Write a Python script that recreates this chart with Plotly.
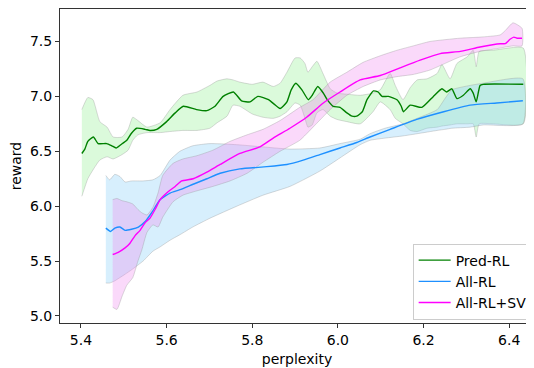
import plotly.graph_objects as go

# ---------------- data ----------------
# Pred-RL
pred_x = [5.402, 5.409, 5.416, 5.429, 5.440, 5.460, 5.472, 5.482, 5.493, 5.507,
          5.517, 5.530, 5.550, 5.561, 5.577, 5.600, 5.620, 5.639, 5.670, 5.694,
          5.713, 5.732, 5.756, 5.775, 5.795, 5.813, 5.838, 5.851, 5.865, 5.881,
          5.891, 5.902, 5.916, 5.931, 5.940, 5.953, 5.966, 5.975, 5.989, 6.005,
          6.021, 6.033, 6.044, 6.057, 6.068, 6.083, 6.094, 6.103, 6.118, 6.138,
          6.148, 6.153, 6.169, 6.196, 6.223, 6.243, 6.254, 6.266, 6.278, 6.293,
          6.309, 6.316, 6.323, 6.332, 6.339, 6.433]
pred_y = [6.48, 6.52, 6.59, 6.63, 6.57, 6.57, 6.55, 6.53, 6.56, 6.60,
          6.66, 6.71, 6.70, 6.69, 6.70, 6.77, 6.85, 6.91, 6.88, 6.87,
          6.91, 7.00, 7.04, 6.96, 6.95, 7.00, 6.97, 6.93, 6.89, 6.95,
          7.06, 7.12, 7.06, 6.97, 7.01, 7.09, 7.03, 6.97, 6.91, 6.90,
          6.85, 6.82, 6.82, 6.86, 6.97, 7.05, 7.04, 7.00, 7.00, 6.97,
          6.91, 6.86, 6.92, 6.90, 7.00, 7.07, 7.04, 7.07, 6.98, 7.01,
          7.07, 7.03, 6.95, 7.10, 7.11, 7.11]
pred_band_x = [5.402, 5.416, 5.428, 5.444, 5.461, 5.475, 5.496, 5.510, 5.521, 5.533,
               5.554, 5.585, 5.608, 5.638, 5.671, 5.701, 5.718, 5.741, 5.755, 5.771,
               5.800, 5.825, 5.849, 5.865, 5.881, 5.900, 5.912, 5.923, 5.930, 5.940,
               5.951, 5.965, 5.982, 5.998, 6.021, 6.052, 6.082, 6.099, 6.122, 6.134,
               6.152, 6.169, 6.185, 6.208, 6.232, 6.243, 6.262, 6.278, 6.302, 6.316,
               6.323, 6.330, 6.363, 6.433]
pred_lo = [6.09, 6.25, 6.33, 6.42, 6.45, 6.43, 6.47, 6.51, 6.60, 6.65,
           6.67, 6.67, 6.68, 6.69, 6.69, 6.71, 6.76, 6.82, 6.92, 6.91,
           6.84, 6.81, 6.80, 6.82, 6.86, 6.94, 6.92, 6.80, 6.72, 6.74,
           6.85, 6.88, 6.82, 6.79, 6.77, 6.75, 6.86, 6.95, 6.88, 6.80,
           6.75, 6.69, 6.68, 6.71, 6.72, 6.73, 6.74, 6.75, 6.75, 6.75,
           6.63, 6.75, 6.75, 6.75]
pred_hi = [6.88, 6.99, 6.97, 6.77, 6.72, 6.63, 6.63, 6.70, 6.81, 6.78,
           6.72, 6.76, 6.88, 7.01, 7.04, 7.10, 7.14, 7.16, 7.15, 7.13,
           7.11, 7.13, 7.09, 7.12, 7.22, 7.35, 7.35, 7.30, 7.22, 7.27,
           7.32, 7.21, 7.07, 7.03, 7.02, 7.01, 7.03, 7.06, 7.21, 7.10,
           6.97, 7.08, 7.15, 7.16, 7.21, 7.29, 7.16, 7.30, 7.36, 7.42,
           7.27, 7.41, 7.42, 7.44]

# All-RL
all_x = [5.458, 5.469, 5.479, 5.491, 5.503, 5.518, 5.534, 5.550, 5.565, 5.585,
         5.608, 5.631, 5.662, 5.694, 5.725, 5.771, 5.834, 5.881, 5.919, 5.958,
         6.005, 6.044, 6.075, 6.122, 6.184, 6.247, 6.309, 6.371, 6.432]
all_y = [5.80, 5.77, 5.80, 5.81, 5.78, 5.79, 5.81, 5.86, 5.94, 6.06,
         6.12, 6.15, 6.20, 6.25, 6.30, 6.34, 6.36, 6.38, 6.42, 6.47,
         6.53, 6.58, 6.63, 6.70, 6.79, 6.86, 6.92, 6.94, 6.96]
all_band_x = [5.458, 5.467, 5.479, 5.491, 5.503, 5.518, 5.545, 5.568, 5.585, 5.608,
              5.631, 5.661, 5.701, 5.764, 5.825, 5.888, 5.958, 6.005, 6.052, 6.075,
              6.110, 6.152, 6.185, 6.232, 6.250, 6.266, 6.309, 6.339, 6.432]
all_lo = [5.30, 5.30, 5.32, 5.35, 5.38, 5.42, 5.50, 5.59, 5.63, 5.69,
          5.74, 5.81, 5.89, 6.00, 6.10, 6.18, 6.32, 6.44, 6.56, 6.60,
          6.62, 6.64, 6.66, 6.69, 6.70, 6.71, 6.72, 6.74, 6.75]
all_hi = [6.28, 6.24, 6.29, 6.27, 6.22, 6.23, 6.23, 6.24, 6.28, 6.42,
          6.50, 6.55, 6.57, 6.56, 6.54, 6.52, 6.53, 6.57, 6.61, 6.66,
          6.71, 6.75, 6.80, 6.88, 6.98, 7.06, 7.10, 7.12, 7.16]

# All-RL+SV
sv_x = [5.474, 5.487, 5.503, 5.514, 5.526, 5.538, 5.550, 5.561, 5.573, 5.585,
        5.600, 5.620, 5.635, 5.662, 5.694, 5.725, 5.771, 5.818, 5.849, 5.888,
        5.927, 5.966, 6.005, 6.052, 6.099, 6.145, 6.192, 6.239, 6.286, 6.332,
        6.379, 6.391, 6.402, 6.411, 6.418, 6.430]
sv_y = [5.56, 5.58, 5.62, 5.66, 5.73, 5.78, 5.85, 5.89, 5.97, 6.06,
        6.12, 6.18, 6.23, 6.25, 6.31, 6.38, 6.48, 6.54, 6.62, 6.71,
        6.81, 6.94, 7.04, 7.15, 7.19, 7.26, 7.33, 7.39, 7.41, 7.45,
        7.48, 7.48, 7.52, 7.54, 7.53, 7.53]
sv_band_x = [5.474, 5.484, 5.496, 5.507, 5.521, 5.533, 5.542, 5.554, 5.568, 5.580,
             5.591, 5.615, 5.638, 5.671, 5.708, 5.748, 5.788, 5.825, 5.865, 5.911,
             5.942, 5.982, 6.021, 6.059, 6.099, 6.138, 6.176, 6.215, 6.285, 6.332,
             6.379, 6.391, 6.409, 6.430]
sv_lo = [5.08, 5.06, 5.18, 5.28, 5.35, 5.50, 5.60, 5.76, 5.83, 5.81,
         5.90, 6.04, 6.10, 6.14, 6.18, 6.23, 6.30, 6.40, 6.50, 6.60,
         6.72, 6.88, 7.01, 7.09, 7.15, 7.18, 7.20, 7.24, 7.36, 7.41,
         7.44, 7.45, 7.46, 7.46]
sv_hi = [6.06, 6.07, 6.05, 6.04, 6.02, 5.97, 5.94, 5.92, 5.99, 6.12,
         6.28, 6.39, 6.43, 6.46, 6.51, 6.59, 6.65, 6.70, 6.78, 6.90,
         6.97, 7.13, 7.22, 7.31, 7.37, 7.42, 7.46, 7.50, 7.53, 7.54,
         7.56, 7.60, 7.67, 7.62]

x_ticks = [5.4, 5.6, 5.8, 6.0, 6.2, 6.4]
y_ticks = [5.0, 5.5, 6.0, 6.5, 7.0, 7.5]

series = [
    ("Pred-RL", pred_x, pred_y, pred_band_x, pred_lo, pred_hi,
     "green", "rgba(144,238,144,0.32)"),
    ("All-RL", all_x, all_y, all_band_x, all_lo, all_hi,
     "#1E90FF", "rgba(135,206,250,0.33)"),
    ("All-RL+SV", sv_x, sv_y, sv_band_x, sv_lo, sv_hi,
     "#FF00FF", "rgba(238,130,238,0.30)"),
]

FONT = "DejaVu Sans"
FS = 14
fig = go.Figure()

for name, x, y, bx, lo, hi, col, fill in series:
    fig.add_trace(go.Scatter(
        x=list(bx) + list(bx[::-1]),
        y=list(hi) + list(lo[::-1]),
        fill="toself", fillcolor=fill,
        line=dict(color="rgba(150,150,150,0.35)", width=1, shape="spline", smoothing=0.5),
        mode="lines", hoverinfo="skip", showlegend=False))

for name, x, y, bx, lo, hi, col, fill in series:
    fig.add_trace(go.Scatter(
        x=x, y=y, mode="lines", name=name,
        line=dict(color=col, width=1.4, shape="spline", smoothing=0.5)))

# page body has an 8px margin: figure is 8px smaller, placed at (8, 8)
fig.update_layout(
    width=526, height=360,
    margin=dict(l=52, r=0, t=1, b=45, autoexpand=False),
    paper_bgcolor="white", plot_bgcolor="white",
    font=dict(family=FONT, size=FS, color="black"),
    legend=dict(x=0.744, y=0.253, xanchor="left", yanchor="top",
                bgcolor="white", bordercolor="#cccccc", borderwidth=1,
                font=dict(family=FONT, size=FS), tracegroupgap=0,
                itemwidth=32),
    xaxis=dict(range=[5.351, 6.458], tickvals=x_ticks, tickformat=".1f",
               showgrid=False, zeroline=False,
               showline=True, linecolor="#333333", linewidth=1, mirror=True,
               ticks="outside", ticklen=4, tickcolor="#333333",
               title=dict(text="perplexity", standoff=7,
                          font=dict(family=FONT, size=FS))),
    yaxis=dict(range=[4.936, 7.796], tickvals=y_ticks, tickformat=".1f",
               showgrid=False, zeroline=False,
               showline=True, linecolor="#333333", linewidth=1, mirror=False,
               ticks="outside", ticklen=4, tickcolor="#333333",
               title=dict(text="reward", standoff=8,
                          font=dict(family=FONT, size=FS))),
)

fig.write_html("out.html")
